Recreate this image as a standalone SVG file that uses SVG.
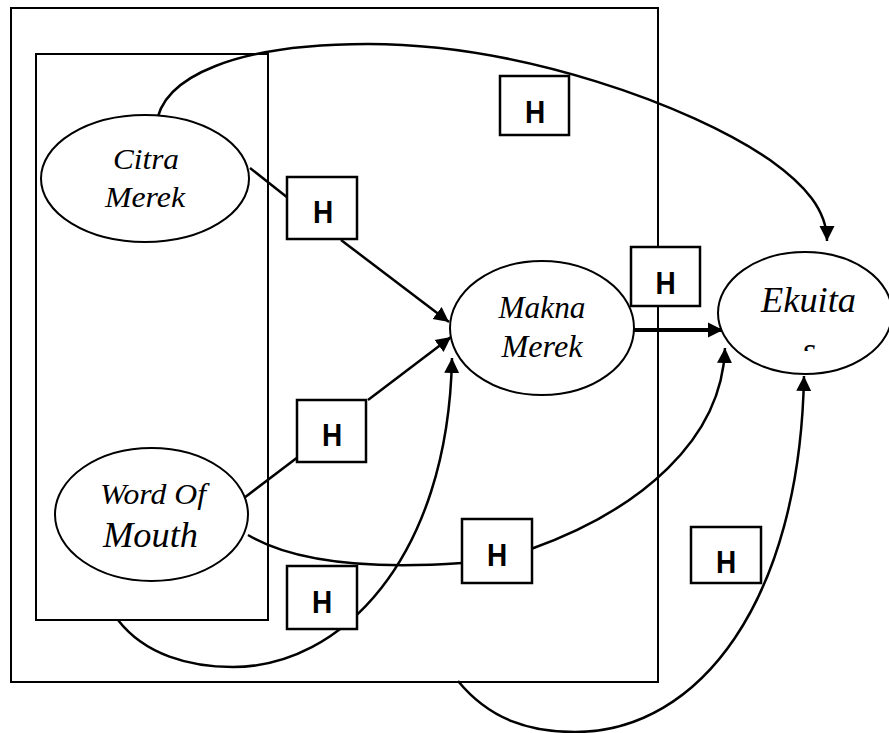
<svg xmlns="http://www.w3.org/2000/svg" width="889" height="733" viewBox="0 0 889 733">
<style>
.frame{fill:none;stroke:#000;stroke-width:2}
.edge{fill:none;stroke:#000;stroke-width:2.5}
.thick{stroke-width:4}
.node{fill:#fff;stroke:#000;stroke-width:2}
.box{fill:#fff;stroke:#000;stroke-width:2.5}
.lbl{font-family:"Liberation Serif","Times New Roman",serif;font-style:italic;fill:#000;text-anchor:middle}
.h{font-family:"Liberation Sans",Arial,sans-serif;font-weight:bold;font-size:28px;fill:#000;text-anchor:middle}
</style>
<defs>
<marker id="arr" markerUnits="userSpaceOnUse" markerWidth="18" markerHeight="18" refX="15" refY="8" orient="auto">
<path d="M0,0.5 L15,8 L0,15.5 z" fill="#000"/>
</marker>
<clipPath id="clipS"><rect x="700" y="200" width="189" height="151"/></clipPath>
</defs>
<rect width="889" height="733" fill="#fff"/>
<g id="frames">
<rect class="frame" x="11" y="8" width="647" height="674"/>
<rect class="frame" x="36" y="54" width="232" height="566"/>
</g>
<g id="connectors">
<path class="edge" d="M156,127 C160,75 240,44 368,44 C520,44 690,105 770,160 C805,185 827,210 827,241" marker-end="url(#arr)"/>
<path class="edge" d="M250,168 L288,198"/>
<path class="edge" d="M341,240 L449,322" marker-end="url(#arr)"/>
<path class="edge" d="M244,498 L298,457"/>
<path class="edge" d="M368,400 L451,337" marker-end="url(#arr)"/>
<path class="edge thick" d="M634,330 L723,330" marker-end="url(#arr)"/>
<path class="edge" d="M248,535 C290,560 360,570 462,563"/>
<path class="edge" d="M531,549 C640,510 722,440 725,348" marker-end="url(#arr)"/>
<path class="edge" d="M118,620 C145,655 190,667 233,667 C340,667 448,560 452,358" marker-end="url(#arr)"/>
<path class="edge" d="M458,681 C490,720 530,732 575,732 C700,732 800,600 804,376" marker-end="url(#arr)"/>
</g>
<g id="citra-merek">
<ellipse class="node" cx="145" cy="178.5" rx="104" ry="63.5"/>
<text class="lbl" x="146" y="169" font-size="30" textLength="66" lengthAdjust="spacingAndGlyphs">Citra</text>
<text class="lbl" x="145" y="207" font-size="30" textLength="80" lengthAdjust="spacingAndGlyphs">Merek</text>
</g>
<g id="word-of-mouth">
<ellipse class="node" cx="151.5" cy="514.5" rx="96.5" ry="66.5"/>
<text class="lbl" x="153" y="504" font-size="30" textLength="106" lengthAdjust="spacingAndGlyphs">Word Of</text>
<text class="lbl" x="150.5" y="546.5" font-size="35" textLength="95" lengthAdjust="spacingAndGlyphs">Mouth</text>
</g>
<g id="makna-merek">
<ellipse class="node" cx="542" cy="328" rx="92" ry="67"/>
<text class="lbl" x="542" y="317.5" font-size="31" textLength="87" lengthAdjust="spacingAndGlyphs">Makna</text>
<text class="lbl" x="542" y="356.5" font-size="31" textLength="81" lengthAdjust="spacingAndGlyphs">Merek</text>
</g>
<g id="ekuitas">
<ellipse class="node" cx="805" cy="313" rx="87" ry="61"/>
<text class="lbl" x="808.5" y="311.5" font-size="35" textLength="95" lengthAdjust="spacingAndGlyphs">Ekuita</text>
<text class="lbl" x="809" y="362" font-size="35" clip-path="url(#clipS)">s</text>
</g>
<g id="h1"><rect class="box" x="500" y="76" width="69" height="59"/><text class="h" transform="translate(535,123) scale(1,1.15)">H</text></g>
<g id="h2"><rect class="box" x="287" y="177" width="70" height="62"/><text class="h" transform="translate(323,223) scale(1,1.15)">H</text></g>
<g id="h3"><rect class="box" x="631" y="247" width="69" height="59"/><text class="h" transform="translate(665.5,294) scale(1,1.15)">H</text></g>
<g id="h4"><rect class="box" x="297" y="400" width="69" height="62"/><text class="h" transform="translate(332,446) scale(1,1.15)">H</text></g>
<g id="h5"><rect class="box" x="462" y="519" width="70" height="64"/><text class="h" transform="translate(497,566) scale(1,1.15)">H</text></g>
<g id="h6"><rect class="box" x="691" y="527" width="70" height="56"/><text class="h" transform="translate(726,573) scale(1,1.15)">H</text></g>
<g id="h7"><rect class="box" x="287" y="566" width="70" height="63"/><text class="h" transform="translate(322,613) scale(1,1.15)">H</text></g>
</svg>
